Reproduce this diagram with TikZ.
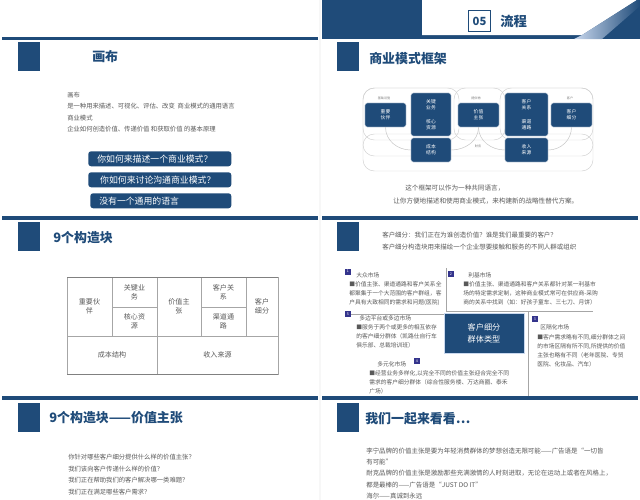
\documentclass[tikz,border=0pt]{standalone}
\usepackage{fontspec}
\setmainfont{Noto Sans CJK SC}
\usetikzlibrary{positioning,calc}
\definecolor{slideBlue}{HTML}{1F4B79}
\definecolor{bodyGray}{HTML}{595959}
\definecolor{lineGray}{HTML}{A6A6A6}
\definecolor{numBlue}{HTML}{34348C}
\definecolor{paleBlue}{HTML}{C9D8EE}
\newcommand{\fsz}[2]{\fontsize{#1}{#2}\selectfont}

\begin{document}
\begin{tikzpicture}[x=0.025cm,y=-0.025cm,
  band/.style={fill=slideBlue},
  head/.style={anchor=west,inner sep=0pt,text=slideBlue,font=\bfseries\fsz{9.2}{11}},
  body/.style={anchor=north west,inner sep=0pt,align=left,text=bodyGray,font=\fsz{4.5}{8}},
  small/.style={anchor=north west,inner sep=0pt,align=left,text=bodyGray,font=\fsz{4.1}{6.2}},
  askbtn/.style={anchor=north west,fill=slideBlue,rounded corners=2pt,text=white,font=\fsz{6.3}{7},minimum height=0.375cm,text width=3.125cm,inner xsep=0.225cm,inner ysep=0pt,align=left},
  cell/.style={align=center,inner sep=0pt,text=bodyGray,font=\fsz{5}{6.4}},
  grid/.style={draw=lineGray,line width=0.4pt},
  blk/.style={fill=slideBlue,draw=white,line width=0.3pt,rounded corners=1.5pt,text=white,align=center,inner sep=0pt,font=\fsz{3.4}{4.3}},
  frame/.style={draw=gray!35,line width=0.35pt,rounded corners=8pt},
  tiny/.style={text=gray,inner sep=0pt,font=\fsz{2.2}{2.6}},
  numtag/.style={fill=numBlue,text=white,inner sep=0pt,minimum size=0.15cm,font=\fsz{2.6}{3}},
  sep/.style={draw=lineGray,line width=0.35pt}]
  \useasboundingbox (0,0) rectangle (640,500);
  \clip (0,0) rectangle (640,500);
  \fill[white] (0,0) rectangle (640,500);
  \fill[gray!6] (319,0) rectangle (321,500);

  \fill[band] (2,36.5) rectangle (318,40);
  \foreach \by in {216,396} {
    \fill[band] (2,\by) rectangle (318,\by+4);
    \fill[band] (322,\by) rectangle (638,\by+4);
  }
  \foreach \sx in {18,337}
    \foreach \sy in {42,222,403}
      \fill[band] (\sx,\sy) rectangle (\sx+21.5,\sy+29);

  \fill[band] (322,0) rectangle (640,39);
  \fill[white] (422,0) -- (637,0) -- (582,35) -- (422,35) -- cycle;
  \shade[left color=paleBlue,right color=slideBlue] (582,35) -- (637,0) -- (640,0) -- (640,6) -- (602,39) -- (574,39) -- cycle;
  \node[draw=slideBlue,line width=0.6pt,minimum width=0.53cm,minimum height=0.53cm,inner sep=0pt,text=slideBlue,font=\bfseries\fsz{8}{9}] (chapNo) at (479.5,21) {05};
  \node[head,font=\bfseries\fsz{9.5}{11}] (chapTitle) at (500,21) {流程};

  \node[head] (canvasHead) at (92,57) {画布};
  \node[body] (canvasTxt) at (67,92) {画布\\是一种用来描述、可视化、评估、改变\ \ 商业模式的通用语言\\商业模式\\企业如何创造价值、传递价值 和获取价值 的基本原理};
  \node[askbtn] (ask1) at (88,151) {你如何来描述一个商业模式？};
  \node[askbtn] (ask2) at (88,172) {\ 你如何来讨论沟通商业模式？};
  \node[askbtn,text width=3.075cm] (ask3) at (90,193) {没有一个通用的语言};

  \node[head] (blocksHead) at (53,238) {9个构造块};
  \draw[grid] (67,277) rectangle (278,374);
  \draw[grid] (67,336) -- (278,336) (157,277) -- (157,374);
  \foreach \gx in {112,201,246} \draw[grid] (\gx,277) -- (\gx,336);
  \draw[grid] (112,307) -- (157,307) (201,307) -- (246,307);
  \draw[draw=gray,line width=0.7pt] (67,277) -- (278,277) (67,374) -- (278,374);
  \node[cell] (kp) at (89.5,306.5) {重要伙\\伴};
  \node[cell] (ka) at (134.5,292) {关键业\\务};
  \node[cell] (kr) at (134.5,321.5) {核心资\\源};
  \node[cell] (vp) at (179,306.5) {价值主\\张};
  \node[cell] (cr) at (223.5,292) {客户关\\系};
  \node[cell] (ch) at (223.5,321.5) {渠道通\\路};
  \node[cell] (cs) at (262,306.5) {客户\\细分};
  \node[cell] (cost) at (112,355) {成本结构};
  \node[cell] (rev) at (217.5,355) {收入来源};

  \node[head] (vpHead) at (49,418) {9个构造块——价值主张};
  \node[body,font=\fsz{4.5}{8.2}] (vpTxt) at (68,454) {你针对哪些客户细分提供什么样的价值主张？\\我们该向客户传递什么样的价值？\\我们正在帮助我们的客户解决哪一类难题？\\我们正在满足哪些客户需求？};

  \node[head] (frameHead) at (369,58.5) {商业模式框架};
  \draw[frame] (363,88) rectangle (593,171);
  \draw[frame] (363,88) rectangle (459,140);
  \draw[frame] (454,88) rectangle (505,140);
  \draw[frame] (500,88) rectangle (593,140);
  \draw[frame] (363,134) rectangle (593,156);
  \node[blk,minimum width=1.025cm,minimum height=0.6cm] (partner) at (385.5,115) {重要\\伙伴};
  \node[blk,minimum width=1cm,minimum height=1.075cm] (activity) at (431,114.5) {关键\\业务\\[5.5pt]核心\\资源};
  \node[blk,minimum width=1cm,minimum height=0.6cm] (costBlk) at (431,150) {成本\\结构};
  \node[blk,minimum width=1.025cm,minimum height=0.6cm] (offer) at (478.5,115) {价值\\主张};
  \node[blk,minimum width=1.075cm,minimum height=1.075cm] (relation) at (526.5,114.5) {客户\\关系\\[5.5pt]渠道\\通路};
  \node[blk,minimum width=1.075cm,minimum height=0.6cm] (revBlk) at (526.5,150) {收入\\来源};
  \node[blk,minimum width=1.025cm,minimum height=0.6cm] (segment) at (571.5,115) {客户\\细分};
  \draw[gray!45,line width=0.35pt] (partner.south) to[out=-90,in=180] (costBlk.west);
  \draw[gray!45,line width=0.35pt] (offer.south) to[out=-90,in=0] (costBlk.east);
  \draw[gray!45,line width=0.35pt] (offer.south) to[out=-90,in=180] (revBlk.west);
  \draw[gray!45,line width=0.35pt] (segment.south) to[out=-90,in=0] (revBlk.east);
  \node[tiny] (infra) at (384,98) {基础设施};
  \node[tiny] (offerTag) at (476,98) {提供物};
  \node[tiny] (custTag) at (570,98) {客户};
  \node[tiny] (finTag) at (478,146) {财务};
  \node[small,font=\fsz{4.7}{9.3}] (frameNote1) at (405,185) {这个框架可以作为一种共同语言，};
  \node[small,font=\fsz{4.7}{9.3}] (frameNote2) at (393,198) {让你方便地描述和使用商业模式，来构建新的战略性替代方案。};

  \node[small,font=\fsz{4.6}{8.6}] (segIntro) at (382,232) {客户细分：我们正在为谁创造价值？谁是我们最重要的客户？\\客户细分构造块用来描绘一个企业想要接触和服务的不同人群或组织};
  \node[fill=slideBlue,draw=paleBlue,line width=0.6pt,minimum width=2cm,minimum height=1cm,text=white,align=center,font=\fsz{5.8}{8.5}] (segType) at (484,333) {客户细分\\群体类型};
  \draw[sep] (446,268) -- (446,311) -- (593,311);
  \draw[sep] (351,314) -- (444,314);
  \draw[sep] (528,311) -- (528,396);
  \node[numtag] (num1) at (348,271.5) {1};
  \node[numtag] (num2) at (451,274) {2};
  \node[numtag] (num3) at (535,319) {3};
  \node[numtag] (num4) at (417,361) {4};
  \node[numtag] (num5) at (348,314) {5};
  \node[small,anchor=west] (massTitle) at (356,275) {大众市场};
  \node[small] (massTxt) at (349,281.5) {■价值主张、渠道通路和客户关系全\\都聚集于一个大范围的客户群组，客\\户具有大致相同的需求和问题(医院)};
  \node[small,anchor=west] (nicheTitle) at (468,275) {利基市场};
  \node[small] (nicheTxt) at (463,281.5) {■价值主张、渠道通路和客户关系都针对某一利基市\\场的特定需求定制，这种商业模式常可在供应商-采购\\商的关系中找到（如：好孩子童车、三七刀、月饼）};
  \node[small,anchor=west] (multiTitle) at (359,318) {多边平台或多边市场};
  \node[small] (multiTxt) at (356,324.5) {■服务于两个或更多的相互依存\\的客户细分群体（凯路仕自行车\\俱乐部、总裁培训班）};
  \node[small,anchor=west] (segmTitle) at (540,327) {区隔化市场};
  \node[small,font=\fsz{4.1}{6.3}] (segmTxt) at (537,334.5) {■客户需求略有不同,细分群体之间\\的市场区隔有所不同,所提供的价值\\主张也略有不同（老年医院、专贸\\医院、化妆品、汽车）};
  \node[small,anchor=west] (diverTitle) at (377,364) {多元化市场};
  \node[small] (diverTxt) at (369,370.5) {■经营业务多样化,以完全不同的价值主张迎合完全不同\\需求的客户细分群体（综合性服务楼、万达商圈、泰禾\\广场）};

  \node[head] (lookHead) at (365,419) {我们一起来看看…};
  \node[body,font=\fsz{4.6}{7.9}] (lookTxt) at (366,448) {李宁品牌的价值主张是要为年轻消费群体的梦想创造无限可能——广告语是“一切皆\\有可能”\\耐克品牌的价值主张是激励那些充满激情的人时刻进取，无论在运动上或者在风格上，\\都是最棒的——广告语是“JUST DO IT”\\海尔——真诚到永远};
\end{tikzpicture}
\end{document}
